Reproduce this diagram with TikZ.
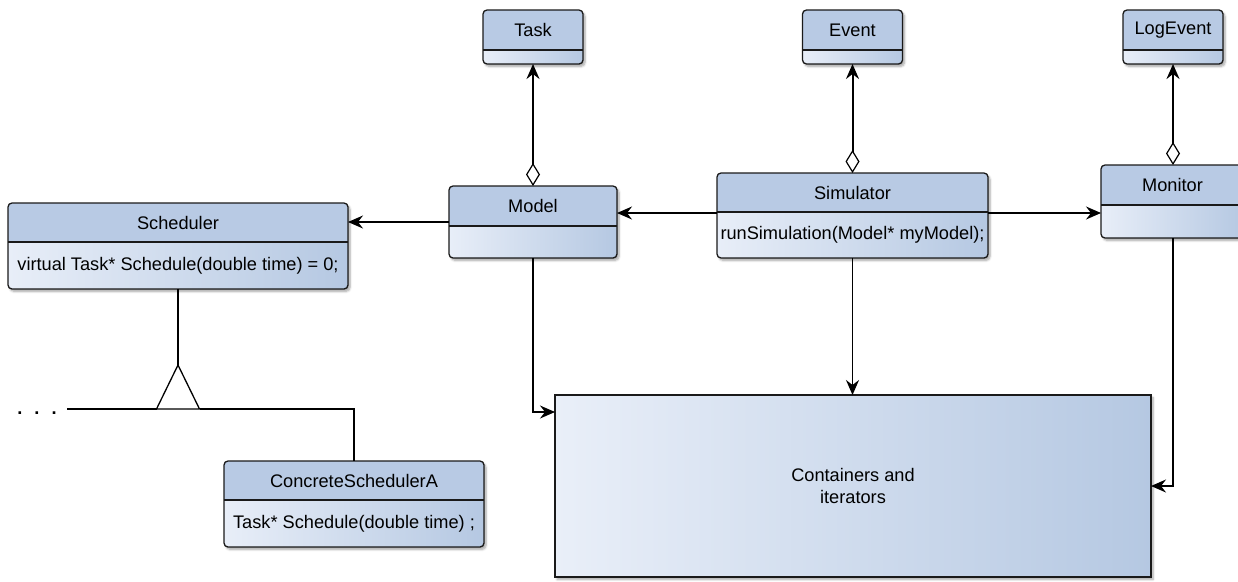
\documentclass[tikz,border=0pt]{standalone}
\usepackage{fontspec}
\setmainfont{Liberation Sans}
\usetikzlibrary{arrows.meta,calc,shadows.blur}

\definecolor{headfill}{HTML}{B8CAE4}
\definecolor{bodylight}{HTML}{E8EEF8}
\definecolor{bodydark}{HTML}{B5C8E2}
\definecolor{edge}{HTML}{1A1A1A}

\tikzset{
  classbody/.style={rectangle, rounded corners=4pt, inner sep=0pt, outer sep=0pt,
    left color=bodylight, right color=bodydark,
    blur shadow={shadow xshift=2pt, shadow yshift=-2.5pt, shadow blur steps=6, shadow opacity=35}},
  boxline/.style={draw=edge, line width=1.3pt},
  plain/.style={draw=black, line width=1.3pt},
  arr/.style={plain, -{Stealth[length=15pt, width=13pt, inset=5pt]}},
  aggr/.style={draw=black, line width=2pt,
    {Diamond[open, length=23pt, width=14pt, line width=1.2pt]}-{Stealth[length=15pt, width=13pt, inset=5pt]}},
  every node/.style={font=\fontsize{18.2}{22}\selectfont, text=black}
}

% UML class: name, x, y, width, height, header height, title, member text
\newcommand{\umlclass}[8]{%
  \node[classbody, minimum width=#4pt, minimum height=#5pt, anchor=north west] (#1) at (#2,#3) {};
  \begin{scope}
    \clip[rounded corners=4pt] (#1.north west) rectangle (#1.south east);
    \fill[headfill] (#1.north west) rectangle ([yshift=-#6pt]#1.north east);
  \end{scope}
  \draw[boxline] ([yshift=-#6pt]#1.north west) -- ([yshift=-#6pt]#1.north east);
  \draw[boxline, rounded corners=4pt] (#1.north west) rectangle (#1.south east);
  \node (#1-title) at ($(#1.north)+(0,#6/2)$) {#7};
  \node (#1-body) at ($(#1.south)!0.5!([yshift=-#6pt]#1.north)$) {#8};
}

\begin{document}
\begin{tikzpicture}[x=1pt, y=-1pt]
\useasboundingbox (0,0) rectangle (1238,581);

% classes
\umlclass{task}{483}{10}{100}{54}{40}{Task}{}
\umlclass{event}{802.5}{10}{100}{54}{40}{Event}{}
\umlclass{logevent}{1123}{10}{100}{54}{40}{LogEvent}{}
\umlclass{model}{449}{186}{168}{72}{40}{Model}{}
\umlclass{sim}{717}{173}{271}{85}{39}{Simulator}{runSimulation(Model* myModel);}
\umlclass{mon}{1101}{165}{143}{73}{40}{Monitor}{}
\umlclass{sched}{8}{203}{340}{86}{39}{Scheduler}{virtual Task* Schedule(double time) = 0;}
\umlclass{concrete}{224}{461}{260}{86}{39}{ConcreteSchedulerA}{Task* Schedule(double time) ;}

% container block
\node[rectangle, inner sep=0pt, outer sep=0pt, left color=bodylight!95!white, right color=bodydark,
  draw=edge, line width=1.3pt, minimum width=596pt, minimum height=182pt, anchor=north west,
  align=center, blur shadow={shadow xshift=2pt, shadow yshift=-2.5pt, shadow blur steps=6, shadow opacity=35}]
  (cont) at (555,395) {Containers and\\iterators};

% aggregations
\draw[aggr] (model.north) -- (model.north |- task.south);
\draw[aggr] (sim.north) -- (sim.north |- event.south);
\draw[aggr] ([xshift=0.5pt]mon.north) -- ([xshift=0.5pt]mon.north |- logevent.south);

% associations
\draw[arr] (model.west) -- (model.west -| sched.east);
\draw[arr] ([yshift=2.5pt]sim.west) -- ([yshift=2.5pt]sim.west -| model.east);
\draw[arr] ([yshift=2.5pt]sim.east) -- ([yshift=2.5pt]sim.east -| mon.west);
\draw[arr] (sim.south) -- (sim.south |- cont.north);
\draw[arr] (model.south) |- ([yshift=-17pt]cont.north west);
\draw[arr] ([xshift=0.5pt]mon.south) |- (cont.east);

% generalisation
\coordinate (genapex) at ($(sched.south)+(0,76)$);
\coordinate (genleft) at ($(genapex)+(-21.5,44)$);
\coordinate (genright) at ($(genapex)+(21.5,44)$);
\coordinate (moreend) at (67,409);
\node[anchor=base] (more) at (37,414.5) {\textbf{.}\hspace{12pt}\textbf{.}\hspace{12pt}\textbf{.}};
\draw[plain] (sched.south) -- (genapex);
\draw[plain] (moreend) -- (genleft);
\draw[plain] (genright) -| (concrete.north);
\draw[plain, fill=white, line join=miter] (genleft) -- (genapex) -- (genright) -- cycle;
\end{tikzpicture}
\end{document}
